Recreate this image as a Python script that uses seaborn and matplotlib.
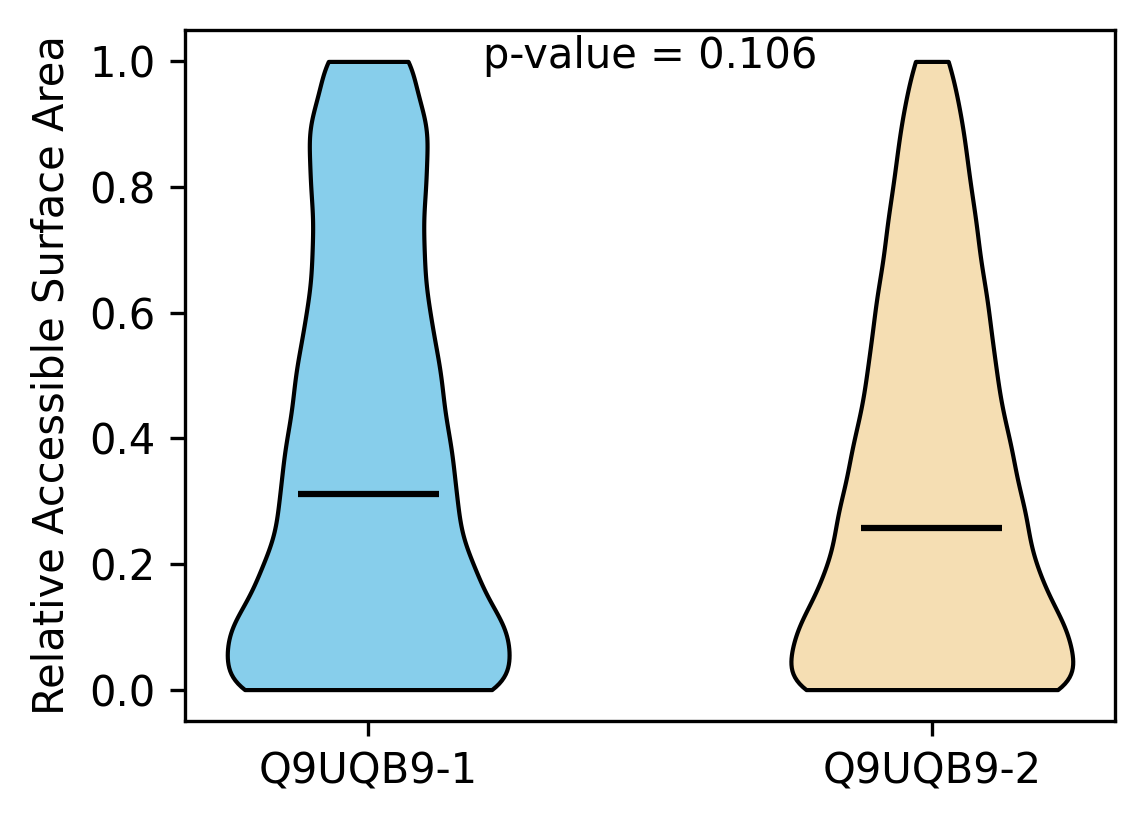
import numpy as np
import pandas as pd
import matplotlib
matplotlib.use('Agg')
import matplotlib.pyplot as plt
import seaborn as sns

# ---- data ----
isoforms = ['Q9UQB9-1', 'Q9UQB9-2']
colors = ['skyblue', 'wheat']
rsa_levels = [0.000, 0.025, 0.050, 0.075, 0.100, 0.125, 0.150, 0.175, 0.200, 0.225,
              0.250, 0.275, 0.300, 0.325, 0.350, 0.375, 0.400, 0.425, 0.450, 0.475,
              0.500, 0.525, 0.550, 0.575, 0.600, 0.625, 0.650, 0.675, 0.700, 0.725,
              0.750, 0.775, 0.800, 0.825, 0.850, 0.875, 0.900, 0.925, 0.950, 0.975,
              1.000]
counts_iso1 = [41, 0, 2, 21, 17, 5, 6, 14, 10, 5,
               7, 9, 8, 6, 7, 8, 7, 6, 6, 6,
               7, 6, 5, 5, 6, 5, 4, 4, 6, 5,
               3, 4, 7, 5, 3, 4, 9, 5, 1, 0,
               13]
counts_iso2 = [46, 1, 3, 23, 16, 6, 9, 15, 9, 6,
               9, 12, 8, 6, 8, 9, 7, 6, 7, 6,
               6, 6, 6, 5, 5, 6, 5, 4, 4, 5,
               4, 4, 3, 4, 3, 3, 3, 3, 2, 1,
               4]
median_rsa = [0.311, 0.257]
p_value_text = 'p-value = 0.106'
y_label = 'Relative Accessible Surface Area'

rows = []
for name, cnts in zip(isoforms, [counts_iso1, counts_iso2]):
    vals = np.repeat(rsa_levels, cnts)
    rows.append(pd.DataFrame({'isoform': name, 'rsa': vals}))
df = pd.concat(rows, ignore_index=True)

# ---- figure ----
W, H, DPI = 1144, 824, 300
fig = plt.figure(figsize=(W / DPI, H / DPI), dpi=DPI)
ax = fig.add_axes([185 / W, 103 / H, 930 / W, 691 / H])

kernel_sd = 0.05
violin_width = 0.5
for i, (name, col) in enumerate(zip(isoforms, colors)):
    sub = df[df['isoform'] == name]
    bw = kernel_sd / np.std(sub['rsa'].to_numpy(), ddof=1)
    sns.violinplot(data=sub, x='isoform', y='rsa', order=isoforms, ax=ax,
                   color=col, saturation=1, cut=0, inner=None,
                   width=violin_width, density_norm='width', bw_method=bw,
                   linewidth=1.0, linecolor='black', gridsize=200)

positions = np.arange(len(isoforms))
ax.hlines(median_rsa, positions - violin_width / 4, positions + violin_width / 4,
          colors='black', linewidth=1.5, zorder=5)

ax.set_xlim(-0.325, 1.325)
ax.set_ylim(-0.05, 1.05)
ax.set_yticks([0.0, 0.2, 0.4, 0.6, 0.8, 1.0])
ax.set_xticks(positions)
ax.set_xticklabels(isoforms, fontsize=10)
ax.tick_params(labelsize=10)
ax.set_xlabel('')
ax.set_ylabel(y_label, fontsize=10)
for s in ax.spines.values():
    s.set_visible(True)
    s.set_color('black')
    s.set_linewidth(0.8)
ax.text(0.5, 0.945, p_value_text, transform=ax.transAxes, ha='center',
        va='baseline', fontsize=10)

fig.savefig('out.png', dpi=DPI)
